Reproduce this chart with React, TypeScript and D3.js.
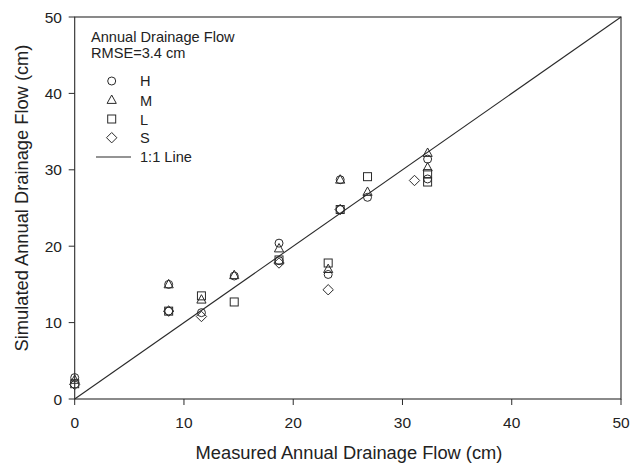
import React from "react";
import * as d3 from "d3";

const xTicks = [0, 10, 20, 30, 40, 50];
const yTicks = [0, 10, 20, 30, 40, 50];

const seriesH: [number, number][] = [
  [0, 2.8], [8.6, 11.5], [8.6, 15.0], [11.6, 11.3], [14.6, 16.1], [18.7, 20.4], [18.7, 18.1],
  [23.2, 16.3], [24.3, 24.8], [24.3, 28.7], [26.8, 26.4], [32.3, 31.4], [32.3, 28.8],
];
const seriesM: [number, number][] = [
  [0, 2.5], [8.6, 15.0], [11.6, 13.0], [14.6, 16.2], [18.7, 19.7], [23.2, 17.0],
  [24.3, 28.7], [26.8, 27.1], [32.3, 32.2], [32.3, 30.3],
];
const seriesL: [number, number][] = [
  [0, 2.0], [8.6, 11.5], [11.6, 13.5], [14.6, 12.7], [18.7, 18.2], [23.2, 17.8],
  [24.3, 24.8], [26.8, 29.1], [32.3, 29.5], [32.3, 28.4],
];
const seriesS: [number, number][] = [
  [0, 1.9], [8.6, 11.5], [11.6, 10.8], [18.7, 17.8], [23.2, 14.3], [24.3, 24.8], [31.1, 28.6],
];

const legendLabels = ["H", "M", "L", "S"];

const W = 631, H = 464;
const left = 74.7, right = 621, top = 17, bottom = 399;
const stroke = "#2a2a2a";
const font = "'Liberation Sans', Arial, sans-serif";

function Marker({ shape, x, y }: { shape: string; x: number; y: number }) {
  const common = { fill: "none", stroke, strokeWidth: 1 };
  if (shape === "circle") return <circle cx={x} cy={y} r={4} {...common} />;
  if (shape === "triangle")
    return <path d={`M${x},${y - 5} L${x + 4.6},${y + 3.4} L${x - 4.6},${y + 3.4} Z`} {...common} />;
  if (shape === "square") return <rect x={x - 4} y={y - 4} width={8} height={8} {...common} />;
  return <path d={`M${x},${y - 5.2} L${x + 5.2},${y} L${x},${y + 5.2} L${x - 5.2},${y} Z`} {...common} />;
}

export default function App() {
  const x = d3.scaleLinear().domain([0, 50]).range([left, right]);
  const y = d3.scaleLinear().domain([0, 50]).range([bottom, top]);
  const series = [
    { data: seriesH, shape: "circle" },
    { data: seriesM, shape: "triangle" },
    { data: seriesL, shape: "square" },
    { data: seriesS, shape: "diamond" },
  ];
  const line = d3.line<[number, number]>().x((d) => x(d[0])).y((d) => y(d[1]));
  const shapes = ["circle", "triangle", "square", "diamond"];
  const legendMarkerY = [81, 100, 119, 137.7];
  const legendTextY = [86, 106, 124.5, 143];
  return (
    <svg width={W} height={H} style={{ position: "absolute", left: 0, top: 0, background: "#fff" }}>
      <rect x={0} y={0} width={W} height={H} fill="#fff" />
      <path d={line([[0, 0], [50, 50]]) || ""} stroke={stroke} strokeWidth={1.1} fill="none" />
      {series.map((s, i) =>
        s.data.map((d, j) => <Marker key={`${i}-${j}`} shape={s.shape} x={x(d[0])} y={y(d[1])} />)
      )}
      <rect x={left} y={top} width={right - left} height={bottom - top} fill="none" stroke={stroke} strokeWidth={1.1} />
      {xTicks.map((t) => (
        <g key={`x${t}`}>
          <line x1={x(t)} x2={x(t)} y1={bottom} y2={bottom + 6} stroke={stroke} />
          <text x={x(t)} y={428} textAnchor="middle" fontFamily={font} fontSize={15.5} fill="#222">{t}</text>
        </g>
      ))}
      {yTicks.map((t) => (
        <g key={`y${t}`}>
          <line x1={left - 6} x2={left} y1={y(t)} y2={y(t)} stroke={stroke} />
          <text x={62} y={y(t) + 5.5} textAnchor="end" fontFamily={font} fontSize={15.5} fill="#222">{t}</text>
        </g>
      ))}
      <text x={349} y={459} textAnchor="middle" fontFamily={font} fontSize={18.3} fill="#222">
        Measured Annual Drainage Flow (cm)
      </text>
      <text transform={`translate(28,198) rotate(-90)`} textAnchor="middle" fontFamily={font} fontSize={18.3} fill="#222">
        Simulated Annual Drainage Flow (cm)
      </text>
      <text x={91} y={42} fontFamily={font} fontSize={14.6} fill="#222">Annual Drainage Flow</text>
      <text x={91} y={57.5} fontFamily={font} fontSize={14.6} fill="#222">RMSE=3.4 cm</text>
      {legendLabels.map((l, i) => (
        <g key={l}>
          <Marker shape={shapes[i]} x={111.7} y={legendMarkerY[i]} />
          <text x={140} y={legendTextY[i]} fontFamily={font} fontSize={14.6} fill="#222">{l}</text>
        </g>
      ))}
      <line x1={96} x2={131} y1={157} y2={157} stroke={stroke} strokeWidth={1.1} />
      <text x={140} y={162} fontFamily={font} fontSize={14.6} fill="#222">1:1 Line</text>
    </svg>
  );
}
